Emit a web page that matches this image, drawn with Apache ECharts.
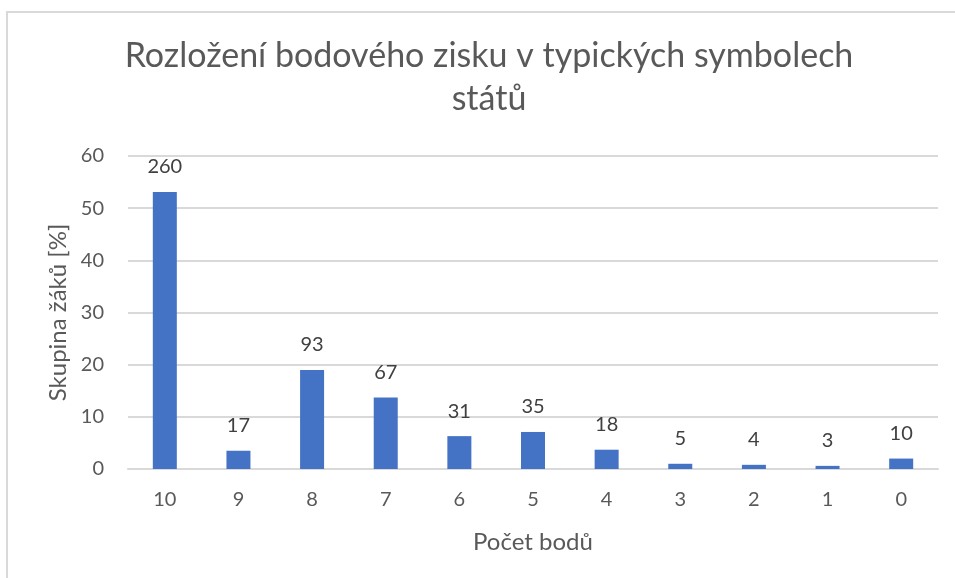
<!DOCTYPE html>
<html>
<head>
<meta charset="utf-8">
<script src="https://cdn.jsdelivr.net/npm/echarts@6/dist/echarts.min.js"></script>
<style>
  html, body { margin: 0; padding: 0; background: #fff; }
  .frame { position: absolute; left: 6px; top: 11px; width: 960px; height: 580px;
           border-left: 2px solid #d9d9d9; border-top: 2px solid #d9d9d9; }
  #chart { position: absolute; left: 0; top: 0; width: 955px; height: 578px; }
</style>
</head>
<body>
<div class="frame"></div>
<div id="chart"></div>
<script>
// počet bodů (kategorie)
const points = ['10', '9', '8', '7', '6', '5', '4', '3', '2', '1', '0'];
// podíl žáků v %
const share = [53.1, 3.5, 19.0, 13.7, 6.3, 7.1, 3.7, 1.0, 0.8, 0.6, 2.0];
// počet žáků (popisky nad sloupci)
const counts = [260, 17, 93, 67, 31, 35, 18, 5, 4, 3, 10];
const yTicks = [0, 10, 20, 30, 40, 50, 60];

const font = 'Lato';
const chart = echarts.init(document.getElementById('chart'));

const option = {
  animation: false,
  title: {
    text: 'Rozložení bodového zisku v typických symbolech\nstátů',
    left: 484,
    top: 30,
    textAlign: 'center',
    textStyle: {
      fontFamily: font,
      fontSize: 34,
      fontWeight: 'normal',
      color: '#595959',
      lineHeight: 43
    }
  },
  grid: {
    left: 128,
    right: 17,
    top: 156,
    bottom: 109
  },
  xAxis: {
    type: 'category',
    data: points,
    name: 'Počet bodů',
    nameLocation: 'middle',
    nameGap: 61,
    nameTextStyle: { fontFamily: font, fontSize: 24, color: '#595959' },
    axisLine: { lineStyle: { color: '#d9d9d9', width: 2 } },
    axisTick: { show: false },
    axisLabel: { fontFamily: font, fontSize: 20, color: '#595959', margin: 21 }
  },
  yAxis: {
    type: 'value',
    min: yTicks[0],
    max: yTicks[yTicks.length - 1],
    interval: 10,
    name: 'Skupina žáků [%]',
    nameLocation: 'middle',
    nameGap: 58,
    nameTextStyle: { fontFamily: font, fontSize: 24, color: '#595959' },
    axisLine: { show: false },
    axisTick: { show: false },
    axisLabel: { fontFamily: font, fontSize: 20, color: '#595959', margin: 24 },
    splitLine: { lineStyle: { color: '#d9d9d9', width: 2 } }
  },
  series: [{
    type: 'bar',
    data: share,
    barWidth: 24,
    itemStyle: { color: '#4472c4' },
    label: {
      show: true,
      position: 'top',
      distance: 15,
      fontFamily: font,
      fontSize: 20,
      color: '#404040',
      formatter: p => counts[p.dataIndex]
    }
  }]
};

chart.setOption(option);
</script>
</body>
</html>
